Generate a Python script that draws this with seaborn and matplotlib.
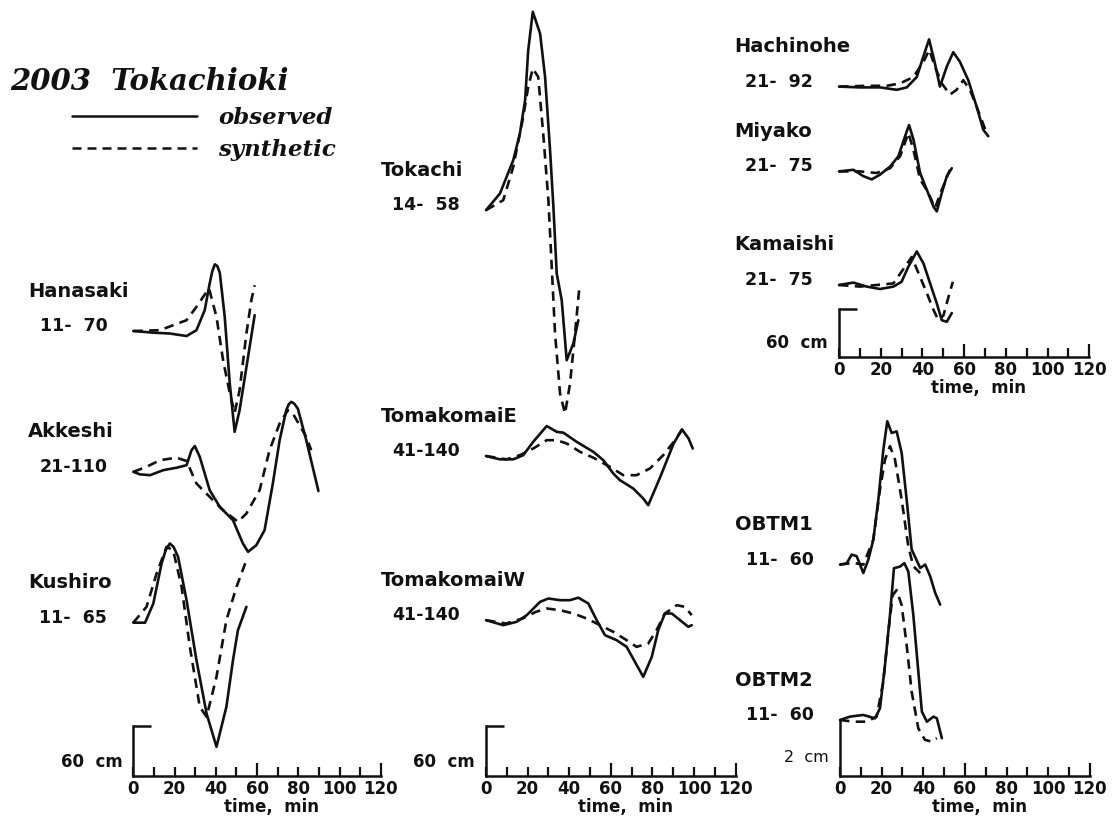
import matplotlib
matplotlib.use("Agg")
import pandas as pd
import matplotlib.pyplot as plt
import seaborn as sns
from matplotlib.lines import Line2D

# ---- waveforms: minutes after window start, water level in cm ----
hanasaki_obs_t = [0, 9.7, 17.7, 25.8, 30.6, 34.6, 37, 38.3, 39.5, 40.7, 41.9, 44.3, 46.7, 49.1, 51.5, 55.6, 58.8]
hanasaki_obs_h = [0, -2, -3, -6, 1, 25, 57, 72, 80, 78, 70, 17, -62, -121, -95, -31, 19]
hanasaki_syn_t = [0, 12.9, 25.8, 30.6, 35.5, 36.7, 40.3, 43.5, 46.7, 49.1, 51.5, 54.8, 57.2, 58.8]
hanasaki_syn_h = [0, 1, 13, 29, 47, 51, 17, -35, -74, -98, -71, -3, 37, 55]

akkeshi_obs_t = [0, 3.2, 8.1, 14.5, 21, 25.8, 28.2, 29.8, 32.2, 37, 41.9, 48.3, 53.1, 55.6,
                 59.6, 63.6, 67.6, 70.9, 74.1, 75.3, 76.5, 77.9, 79.7, 83.8, 89.7]
akkeshi_obs_h = [0, -3, -4, 2, 5, 8, 26, 31, 18, -22, -42, -58, -86, -96,
                 -88, -70, -14, 38, 74, 81, 84, 82, 76, 38, -23]
akkeshi_syn_t = [0, 6.4, 12.9, 21, 25.8, 30.6, 37, 43.5, 50.7, 54.8, 61.2, 66, 70.9, 74.9, 77.3, 83.8, 86.2]
akkeshi_syn_h = [0, 6, 14, 17, 13, -14, -30, -46, -60, -50, -22, 26, 58, 74, 70, 42, 26]

kushiro_obs_t = [0, 5.7, 9.7, 13.7, 15.7, 17.7, 19.5, 21.7, 25.8, 30.6, 35.5, 40.3, 45.1, 48.3, 50.7, 54.8]
kushiro_obs_h = [0, 0, 23, 71, 87, 95, 91, 79, 27, -45, -109, -149, -101, -45, -9, 19]
kushiro_syn_t = [0, 6.4, 11.3, 16.1, 19.3, 23.4, 27.4, 32.2, 35.5, 40.3, 45.1, 50, 54.8]
kushiro_syn_h = [0, 19, 59, 91, 87, 43, -29, -101, -113, -65, 3, 43, 75]

tokachi_obs_t = [0, 6.7, 13.1, 16.3, 18.8, 20.3, 22.5, 26, 28.4, 30.8, 32.4, 34, 36.4, 38.8, 42, 44.4]
tokachi_obs_h = [0, 20, 60, 92, 132, 192, 238, 212, 160, 72, 4, -76, -108, -180, -160, -132]
tokachi_syn_t = [0, 8.3, 13.1, 17.9, 20.3, 22.5, 25.1, 27.5, 30, 31.6, 33.2, 35.6, 38, 40.4, 42.8, 44.9]
tokachi_syn_h = [0, 12, 52, 112, 148, 170, 160, 92, 12, -68, -148, -220, -244, -208, -148, -92]

tomaE_obs_t = [0, 6.7, 13.1, 17.9, 22.7, 29.2, 34, 37.2, 43.6, 51.6, 56.4, 61.2, 64.4, 70.8,
               75.6, 78, 83.8, 90.2, 94.2, 97.4, 99.4]
tomaE_obs_h = [0, -4, -4, 1, 17, 36, 29, 28, 17, 5, -5, -21, -29, -39, -51, -59, -25, 15, 32, 21, 9]
tomaE_syn_t = [0, 9.9, 16.3, 22.7, 29.2, 34, 38.8, 45.2, 51.6, 59.6, 66, 72.4, 78.8, 85.2, 90.9, 94.1, 97.3]
tomaE_syn_h = [0, -4, 1, 9, 19, 19, 15, 5, -2, -13, -23, -23, -15, 1, 19, 31, 27]

tomaW_obs_t = [0, 8.3, 14.7, 19.6, 26, 30, 35.6, 40.4, 44.4, 49.2, 53.2, 57.2, 62.8, 67.6,
               71.6, 75.6, 79.7, 82.8, 86, 89.3, 93.3, 97.3, 98.9]
tomaW_obs_h = [0, -6, -2, 6, 22, 26, 24, 24, 27, 20, 0, -18, -24, -32, -50, -68, -44, -12, 8, 8, 0, -8, -6]
tomaW_syn_t = [0, 9.6, 17.6, 24, 29.2, 35.6, 42, 48.4, 54.8, 61.2, 67.6, 72.4, 78, 82, 86, 91.7, 95.7, 98.9]
tomaW_syn_h = [0, -4, 2, 10, 14, 12, 8, 2, -6, -14, -24, -32, -28, -12, 8, 18, 16, 6]

hachinohe_obs_t = [0, 10, 19.7, 27.7, 32.5, 37.3, 40.5, 43.2, 46, 48.4, 51.7, 54.8, 58, 62, 66, 69.2, 71.6]
hachinohe_obs_h = [0, -1, -1, -4, -1, 12, 38, 59, 29, 0, 25, 43, 31, 8, -25, -54, -62]
hachinohe_syn_t = [0, 13.3, 22.9, 29.3, 35.7, 40.5, 43.3, 46, 49.3, 53.2, 56.4, 59.6, 62.8, 66, 70.8]
hachinohe_syn_h = [0, 1, 1, 4, 12, 31, 46, 25, 4, -10, -4, 8, -4, -25, -58]

miyako_obs_t = [0, 6.9, 11.7, 15.7, 19.7, 24.5, 28.5, 31.7, 33.6, 35.7, 38.9, 42.1, 45.3, 46.9, 49.3, 51.7, 54.1]
miyako_obs_h = [0, 2, -6, -10, -4, 6, 19, 44, 58, 40, -2, -23, -44, -50, -27, -6, 4]
miyako_syn_t = [0, 10, 18, 24.5, 29.3, 33.3, 35.7, 38.9, 42.9, 46, 49.3, 53.2]
miyako_syn_h = [0, 0, -2, 4, 19, 48, 27, -10, -27, -46, -23, 2]

kamaishi_obs_t = [0, 6.9, 13.3, 19.7, 26.1, 30, 33.3, 37.3, 40.5, 43.7, 46.9, 49.3, 51.7, 54.1]
kamaishi_obs_h = [0, 3, -2, -5, -2, 4, 23, 42, 27, 2, -23, -44, -46, -35]
kamaishi_syn_t = [0, 10, 18, 26.1, 31.7, 34.9, 38.9, 42.1, 45.3, 47.7, 50.1, 52.5, 54.6]
kamaishi_syn_h = [0, -2, 0, 2, 23, 35, 10, -10, -31, -44, -38, -15, 4]

obtm1_obs_t = [0, 3.2, 5.6, 8, 11.2, 13.6, 16, 18.4, 20.8, 22.7, 24.8, 27.2, 29.6, 32, 34.4,
               38.5, 40.9, 43.3, 45.7, 48.1]
obtm1_obs_h = [0, 0.04, 0.36, 0.3, -0.3, 0.18, 0.89, 2.32, 4.1, 5.12, 4.7, 4.76, 3.99, 2.32, 0.54,
               -0.12, 0, -0.42, -1.01, -1.43]
obtm1_syn_t = [0, 6.4, 11.2, 16, 19.2, 21.6, 24, 26.4, 29.6, 32.8, 35.2, 38.5]
obtm1_syn_h = [0, 0.06, 0, 0.89, 2.68, 3.75, 4.23, 3.75, 2.32, 0.65, -0.06, -0.3]

obtm2_obs_t = [0, 4.8, 11.2, 16.8, 19.2, 21.6, 24, 25.9, 28.8, 30.9, 32.8, 35.2, 37.6, 39.3,
               41.7, 44.9, 46.5, 48.9]
obtm2_obs_h = [0, 0.12, 0.18, 0.06, 0.42, 1.96, 3.75, 5.42, 5.48, 5.6, 5.3, 3.75, 1.73, 0.3,
               -0.06, 0.12, 0.06, -0.65]
obtm2_syn_t = [0, 6.4, 12.8, 17.6, 20.8, 23.2, 25.3, 27.2, 29.6, 32, 34.4, 37.6, 40.8, 44, 46.5]
obtm2_syn_h = [0, -0.06, -0.06, 0.12, 1.37, 3.15, 4.46, 4.64, 4.1, 2.68, 1.01, -0.3, -0.71, -0.77, -0.65]

# station names, time windows and baseline offsets (cm above time axis)
left_names = ["Hanasaki", "Akkeshi", "Kushiro"]
left_windows = ["11-  70", "21-110", "11-  65"]
left_offsets = [534, 365, 184]
left_waves = [(hanasaki_obs_t, hanasaki_obs_h, hanasaki_syn_t, hanasaki_syn_h),
              (akkeshi_obs_t, akkeshi_obs_h, akkeshi_syn_t, akkeshi_syn_h),
              (kushiro_obs_t, kushiro_obs_h, kushiro_syn_t, kushiro_syn_h)]

mid_names = ["Tokachi", "TomakomaiE", "TomakomaiW"]
mid_windows = ["14-  58", "41-140", "41-140"]
mid_offsets = [679, 384, 187]
mid_waves = [(tokachi_obs_t, tokachi_obs_h, tokachi_syn_t, tokachi_syn_h),
             (tomaE_obs_t, tomaE_obs_h, tomaE_syn_t, tomaE_syn_h),
             (tomaW_obs_t, tomaW_obs_h, tomaW_syn_t, tomaW_syn_h)]

tohoku_names = ["Hachinohe", "Miyako", "Kamaishi"]
tohoku_windows = ["21-  92", "21-  75", "21-  75"]
tohoku_offsets = [338, 232, 90]
tohoku_waves = [(hachinohe_obs_t, hachinohe_obs_h, hachinohe_syn_t, hachinohe_syn_h),
                (miyako_obs_t, miyako_obs_h, miyako_syn_t, miyako_syn_h),
                (kamaishi_obs_t, kamaishi_obs_h, kamaishi_syn_t, kamaishi_syn_h)]

obtm_names = ["OBTM1", "OBTM2"]
obtm_windows = ["11-  60", "11-  60"]
obtm_offsets = [7.55, 2.0]
obtm_waves = [(obtm1_obs_t, obtm1_obs_h, obtm1_syn_t, obtm1_syn_h),
              (obtm2_obs_t, obtm2_obs_h, obtm2_syn_t, obtm2_syn_h)]

W, H = 1112, 825
sns.set_style("ticks")
plt.rcParams["font.family"] = ["DejaVu Sans"]
plt.rcParams["font.weight"] = "bold"
INK = "#111111"

fig = plt.figure(figsize=(W / 100, H / 100), dpi=100)


def panel(names, windows, offsets, waves, px_l, px_r, x0, spx, axis_y, top, spy,
          bar, bar_label, cap=True):
    ax = fig.add_axes([px_l / W, 1 - axis_y / H, (px_r - px_l) / W, (axis_y - top) / H])
    ax.patch.set_visible(False)

    rows = []
    for name, off, (ot, oh, st, sh) in zip(names, offsets, waves):
        rows += [dict(station=name, kind="observed", t=t, h=off + h) for t, h in zip(ot, oh)]
        rows += [dict(station=name, kind="synthetic", t=t, h=off + h) for t, h in zip(st, sh)]
    df = pd.DataFrame(rows)
    sns.lineplot(data=df, x="t", y="h", units="station", style="kind", estimator=None,
                 sort=False, color=INK, linewidth=1.9, legend=False, ax=ax,
                 style_order=["observed", "synthetic"],
                 dashes={"observed": "", "synthetic": (3.6, 2.4)})
    for ln in ax.lines:
        ln.set_clip_on(False)
        ln.set_solid_joinstyle("round")
        ln.set_solid_capstyle("round")

    ax.set_xlim((px_l - x0) / spx, (px_r - x0) / spx)
    ax.set_ylim(0, (axis_y - top) / spy)
    ax.set_xlabel("")
    ax.set_ylabel("")

    for s in ("top", "right"):
        ax.spines[s].set_visible(False)
    for s in ("bottom", "left"):
        ax.spines[s].set_linewidth(1.8)
        ax.spines[s].set_color(INK)
    ax.spines["bottom"].set_bounds(0, 120)
    ax.spines["left"].set_position(("data", 0))
    ax.spines["left"].set_bounds(0, bar)

    ax.set_xticks(range(0, 121, 20))
    ax.set_xticks(range(10, 120, 20), minor=True)
    ax.tick_params(axis="x", which="both", bottom=True, direction="in", length=6.5, width=1.6,
                   color=INK, labelsize=12, pad=3, labelcolor=INK)
    for tick, v in zip(ax.xaxis.get_major_ticks(), range(0, 121, 20)):
        if v in (60, 120):
            tick.tick1line.set_markersize(9.5)
    ax.set_yticks([bar] if cap else [])
    ax.tick_params(axis="y", left=True, direction="in", length=13, width=1.8, color=INK,
                   labelleft=False)

    ax.annotate("time,  min", xy=(67, 0), xytext=(0, -31), textcoords="offset pixels",
                ha="center", va="center", fontsize=12, color=INK)
    ax.annotate(bar_label, xy=(0, 0), xytext=(-11, 14 if cap else 18), textcoords="offset pixels",
                ha="right", va="center", fontsize=12 if cap else 11.5, color=INK,
                fontweight="bold" if cap else "normal")

    for name, win, off in zip(names, windows, offsets):
        ax.annotate(name, xy=(0, off), xytext=(-105, 40), textcoords="offset pixels",
                    ha="left", va="center", fontsize=14, color=INK)
        ax.annotate(win, xy=(0, off), xytext=(-26, 5), textcoords="offset pixels",
                    ha="right", va="center", fontsize=12.5, color=INK)
    return ax


panel(left_names, left_windows, left_offsets, left_waves,
      0, 415, 133.3, 2.064, 776, 0, 0.8333, 60, "60  cm")
panel(mid_names, mid_windows, mid_offsets, mid_waves,
      375, 760, 486, 2.08, 776, 0, 0.8333, 60, "60  cm")
panel(tohoku_names, tohoku_windows, tohoku_offsets, tohoku_waves,
      720, 1112, 839, 2.085, 357, 0, 0.8, 60, "60  cm")
panel(obtm_names, obtm_windows, obtm_offsets, obtm_waves,
      720, 1112, 840, 2.083, 776, 380, 28, 2, "2  cm", cap=False)

# title and legend
fig.text(10 / W, 1 - 82 / H, "2003  Tokachioki", family="DejaVu Serif", style="italic",
         weight="bold", fontsize=21, va="center", ha="left", color=INK)
handles = [Line2D([], [], color=INK, lw=1.8),
           Line2D([], [], color=INK, lw=1.8, dashes=(3.6, 2.4))]
fig.legend(handles, ["observed", "synthetic"], loc="upper left",
           bbox_to_anchor=(72 / W, 1 - 107 / H), frameon=False, borderpad=0,
           borderaxespad=0, handlelength=5.45, handletextpad=0.92, labelspacing=0.45,
           prop=dict(family="DejaVu Serif", style="italic", weight="bold", size=16.5),
           labelcolor=INK)

fig.savefig("out.png", dpi=100, facecolor="white")
